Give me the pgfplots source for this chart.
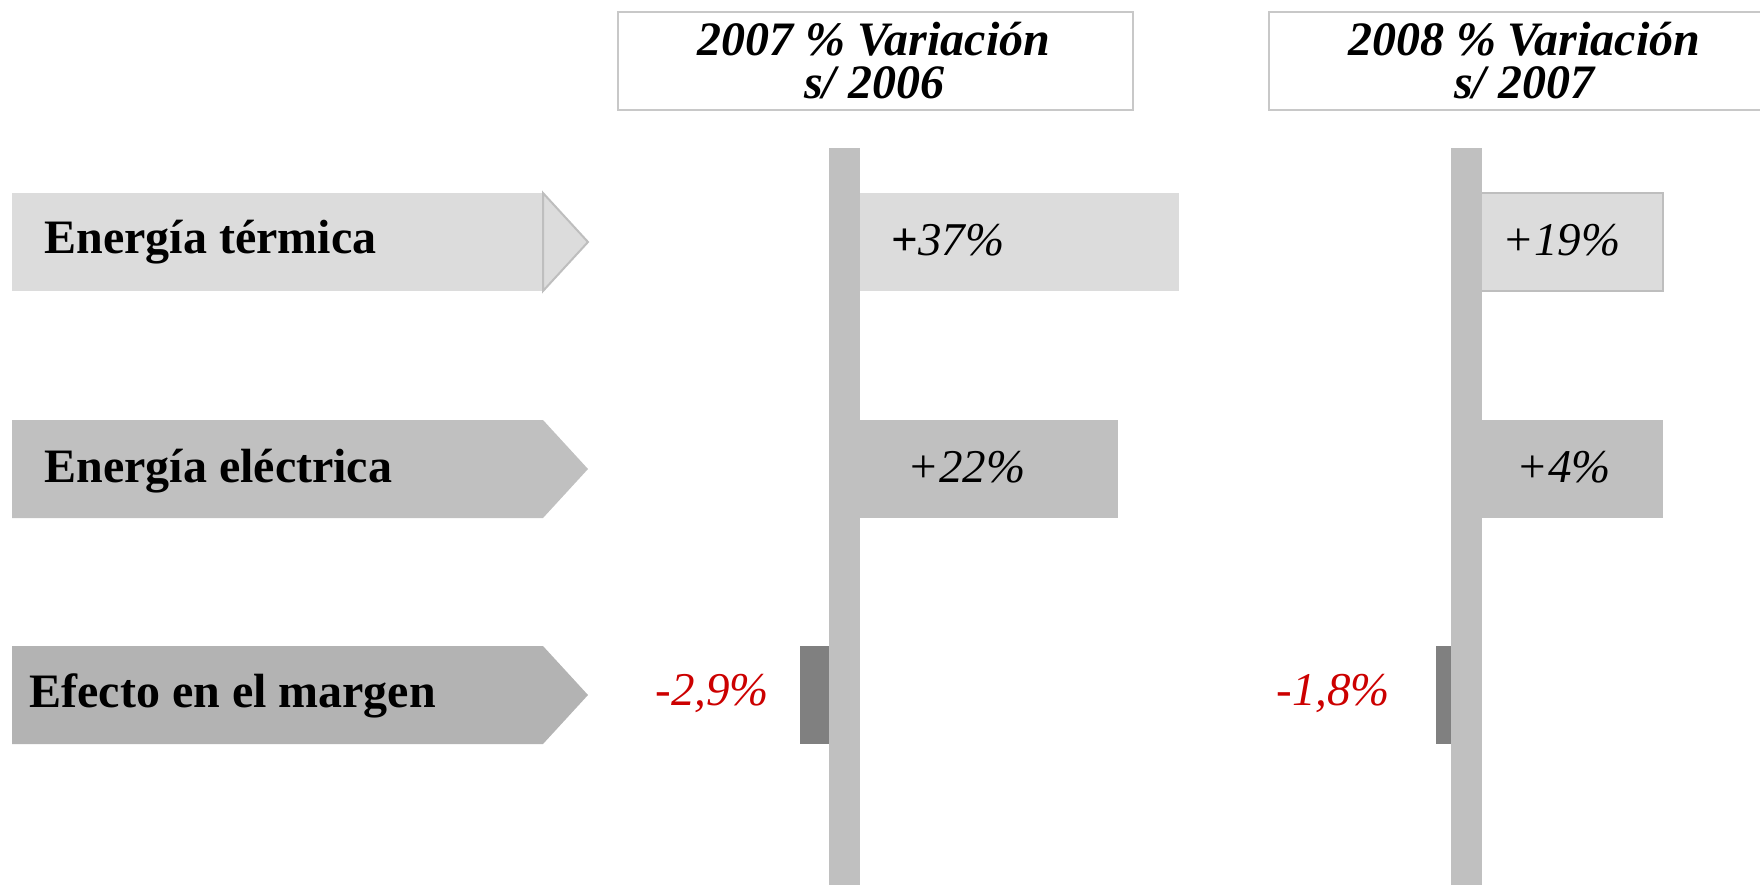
\documentclass[border=0pt]{standalone}
\usepackage{pgfplots}
\pgfplotsset{compat=1.18}
\usepackage{fontspec}
\setmainfont{Liberation Serif}

\definecolor{lite}{HTML}{DCDCDC}
\definecolor{mid}{HTML}{C0C0C0}
\definecolor{darkarrow}{HTML}{B3B3B3}
\definecolor{neg}{HTML}{808080}
\definecolor{rojo}{HTML}{CC0000}
\definecolor{edge}{HTML}{BEBEBE}
\definecolor{boxedge}{HTML}{C8C8C8}

% one pixel of the reference = 0.5pt
\pgfplotsset{canvas/.style={
  scale only axis, width=880pt, height=442.5pt,
  at={(0,0)}, anchor=south west,
  ymin=0, ymax=885, y dir=reverse,
  hide axis, clip=false}}

\begin{document}
\begin{tikzpicture}
\useasboundingbox (0,0) rectangle (880pt,442.5pt);

% 2007 bars, zero at the middle of the grey post (x = 844.5 px)
\begin{axis}[canvas, xmin=-844.5, xmax=915.5]
\addplot[xbar, bar shift=0pt, bar width=98, fill=lite, draw=none] coordinates {(334.5,242)};
\addplot[xbar, bar shift=0pt, bar width=98, fill=mid, draw=none] coordinates {(273.5,469)};
\addplot[xbar, bar shift=0pt, bar width=98, fill=neg, draw=none] coordinates {(-44.5,695)};
\end{axis}

% 2008 bars, zero at x = 1466.5 px
\begin{axis}[canvas, xmin=-1466.5, xmax=293.5]
\addplot[xbar, bar shift=0pt, bar width=98, fill=lite, draw=edge, line width=1pt] coordinates {(196.5,242)};
\addplot[xbar, bar shift=0pt, bar width=98, fill=mid, draw=none] coordinates {(196.5,469)};
\addplot[xbar, bar shift=0pt, bar width=98, fill=neg, draw=none] coordinates {(-30.5,695)};
\end{axis}

% frame: posts, arrows, headers and text
\begin{axis}[canvas, xmin=0, xmax=1760]
\addplot[fill=mid, draw=none] coordinates {(829,148) (860,148) (860,885) (829,885)} -- cycle;
\addplot[fill=mid, draw=none] coordinates {(1451,148) (1482,148) (1482,885) (1451,885)} -- cycle;

\fill[lite] (12,193) rectangle (543,291);
\filldraw[fill=lite, draw=edge, line width=1pt] (543,193) -- (588,242) -- (543,291) -- cycle;
\fill[mid] (12,420) -- (543,420) -- (588,469) -- (543,518) -- (12,518) -- cycle;
\fill[darkarrow] (12,646) -- (543,646) -- (588,695) -- (543,744) -- (12,744) -- cycle;

\filldraw[fill=white, draw=boxedge, line width=0.8pt] (618,12) rectangle (1133,110);
\filldraw[fill=white, draw=boxedge, line width=0.8pt] (1760,12) -- (1269,12) -- (1269,110) -- (1760,110);

\begin{scope}[every node/.style={inner sep=0pt, anchor=base, font=\fontsize{24}{26}\selectfont\bfseries\itshape}]
\node[text depth=0pt] at (874,55) {2007 \% Variación};
\node[text height=16pt] at (874,98) {s/ 2006};
\node[text depth=0pt] at (1524,55) {2008 \% Variación};
\node[text height=16pt] at (1524,98) {s/ 2007};
\end{scope}

\begin{scope}[every node/.style={inner sep=0pt, anchor=base west, font=\fontsize{24}{26}\selectfont\bfseries}]
\node at (44,253) {Energía térmica};
\node at (44,482) {Energía eléctrica};
\node at (29,707) {Efecto en el margen};
\end{scope}

\begin{scope}[every node/.style={inner sep=0pt, anchor=base west, font=\fontsize{23.5}{26}\selectfont\itshape}]
\node at (891,255) {{\bfseries\upshape +}37\%};
\node at (1502,255) {+19\%};
\node at (907,482) {+22\%};
\node at (1516,482) {+4\%};
\node[text=rojo] at (655,705) {-2,9\%};
\node[text=rojo] at (1276,705) {-1,8\%};
\end{scope}
\end{axis}
\end{tikzpicture}
\end{document}
